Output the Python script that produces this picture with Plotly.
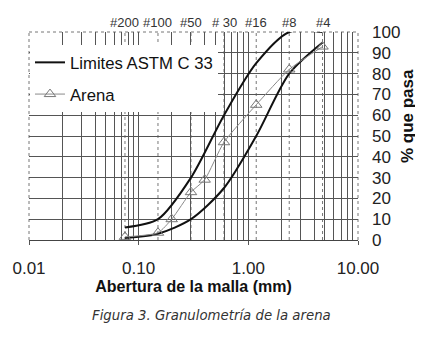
import plotly.graph_objects as go
import math

# ---- data ----
sieve_mm = [0.075, 0.15, 0.3, 0.6, 1.18, 2.36, 4.75]
sieve_labels = ["#200", "#100", "#50", "# 30", "#16", "#8", "#4"]
upper_pct = [6, 10, 30, 60, 85, 100, 100]
lower_pct = [1, 3, 10, 25, 50, 80, 95]
arena_mm = [0.075, 0.15, 0.2, 0.3, 0.4, 0.6, 1.18, 2.36, 4.75]
arena_pct = [1.5, 3.5, 10, 23, 29, 47, 65, 82, 93]
x_major = [0.01, 0.1, 1, 10]
x_major_text = ["0.01", "0.10", "1.00", "10.00"]
x_minor = [m * d for d in (0.01, 0.1, 1) for m in range(2, 10)]
y_ticks = list(range(0, 101, 10))

FONT = "Liberation Sans"
fig = go.Figure()

fig.add_trace(go.Scatter(
    x=sieve_mm, y=upper_pct, mode="lines", name="Limites ASTM C 33",
    line=dict(color="#111111", width=2, shape="spline", smoothing=0.8),
    legendgroup="lim", cliponaxis=False))
fig.add_trace(go.Scatter(
    x=sieve_mm, y=lower_pct, mode="lines", name="Limites ASTM C 33",
    line=dict(color="#111111", width=2, shape="spline", smoothing=0.8),
    legendgroup="lim", showlegend=False, cliponaxis=False))
fig.add_trace(go.Scatter(
    x=arena_mm, y=arena_pct, mode="lines+markers", name="Arena",
    line=dict(color="#8a8a8a", width=1, shape="spline", smoothing=0.6),
    marker=dict(symbol="triangle-up-open", size=10, color="#777777",
                line=dict(width=1)),
    legendgroup="arena", cliponaxis=False))

shapes = []
for s in sieve_mm:
    shapes.append(dict(type="line", xref="x", yref="paper", x0=s, x1=s, y0=0, y1=1,
                       line=dict(color="#777777", width=1, dash="dot"), layer="below"))
# dotted frame: left, top, right
for (x0, y0, x1, y1) in [(0, 0, 0, 1), (0, 1, 1, 1), (1, 0, 1, 1)]:
    shapes.append(dict(type="line", xref="paper", yref="paper", x0=x0, x1=x1, y0=y0, y1=y1,
                       line=dict(color="#777777", width=1, dash="dot"), layer="below"))

annotations = []
for s, lab in zip(sieve_mm, sieve_labels):
    annotations.append(dict(x=math.log10(s), y=1.0, xref="x", yref="paper",
                            text=lab, showarrow=False, yanchor="bottom", yshift=0,
                            font=dict(family=FONT, size=13, color="#333333")))
annotations.append(dict(x=0.556, y=-0.365, xref="paper", yref="paper",
                        text="<i>Figura 3. Granulometría de la arena</i>",
                        showarrow=False, xanchor="center", yanchor="middle",
                        font=dict(family="DejaVu Sans", size=13.3, color="#333333")))
annotations.append(dict(x=1.149, y=0.596, xref="paper", yref="paper",
                        text="<b>% que pasa</b>", textangle=-90,
                        showarrow=False, xanchor="center", yanchor="middle",
                        font=dict(family=FONT, size=17, color="#111111")))

# the page body adds an 8px offset; the figure is sized to end at the window edge
fig.update_layout(
    width=415, height=329,
    margin=dict(l=21, r=65, t=24, b=97),
    paper_bgcolor="white", plot_bgcolor="white",
    font=dict(family=FONT, color="#222222"),
    showlegend=True,
    legend=dict(x=0.003, y=0.9375, xanchor="left", yanchor="top",
                bgcolor="white", borderwidth=0, tracegroupgap=7, itemwidth=30,
                font=dict(family=FONT, size=16.7, color="#111111")),
    xaxis=dict(type="log", range=[-2, 1], tickvals=x_major, ticktext=x_major_text,
               ticks="outside", ticklen=4, tickcolor="#555555",
               showgrid=True, gridcolor="#555555", gridwidth=1,
               minor=dict(tickvals=x_minor, showgrid=True, gridcolor="#555555",
                          gridwidth=1, ticks=""),
               showline=True, linecolor="#444444", linewidth=1,
               zeroline=False, tickfont=dict(size=17, color="#222222"),
               ticklabelstandoff=9, automargin=False,
               title=dict(text="<b>Abertura de la malla (mm)</b>", standoff=0,
                          font=dict(size=16, color="#111111"))),
    yaxis=dict(range=[0, 100], side="right", tickvals=y_ticks,
               showgrid=True, gridcolor="#555555", gridwidth=1,
               ticks="", zeroline=False, showline=False,
               tickfont=dict(size=17, color="#222222"),
               ticklabelstandoff=13, automargin=False),
    shapes=shapes, annotations=annotations,
)

fig.write_html("out.html")
